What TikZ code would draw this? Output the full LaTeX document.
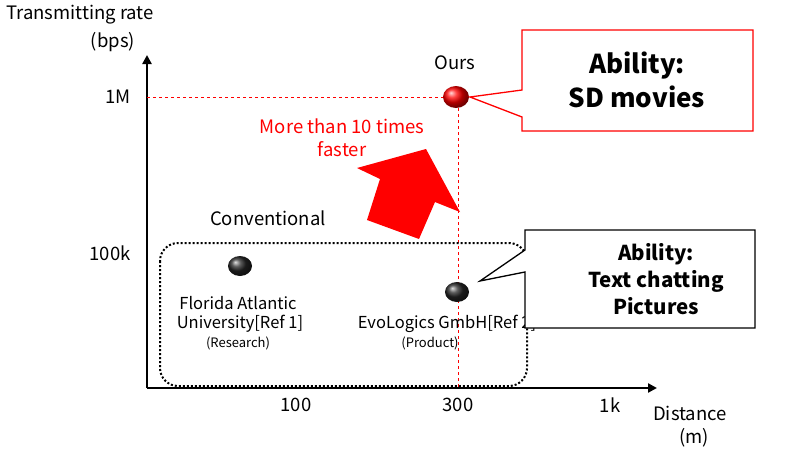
\documentclass[tikz,border=0pt]{standalone}
\usepackage{fontspec}
\setmainfont{Noto Sans CJK JP}
\usetikzlibrary{arrows.meta,shapes.geometric}
\begin{document}
\begin{tikzpicture}[x=1pt,y=-1pt,
  lab/.style={font=\fontsize{18.5}{20}\selectfont,inner sep=0},
  small/.style={font=\fontsize{13}{14}\selectfont,inner sep=0},
  med/.style={font=\fontsize{16.5}{18}\selectfont,inner sep=0},
  big/.style={font=\fontsize{26}{34}\selectfont\bfseries,align=center},
  mid/.style={font=\fontsize{20.5}{27}\selectfont\bfseries,align=center},
  rdash/.style={red,dashed,line width=0.7pt}]
\useasboundingbox (0,0) rectangle (788,458);
% axes
\coordinate (o) at (147,388);
\coordinate (ytop) at (147,55);
\coordinate (xend) at (657,388);
\draw[line width=2.5pt,-{Triangle[length=9pt,width=9pt]}] (o) -- (ytop);
\draw[line width=2.5pt,-{Triangle[length=9pt,width=9pt]}] (o) -- (xend);
\node[lab] (yl1) at (80,15) {Transmitting rate};
\node[lab] (yl2) at (113,42) {(bps)};
\node[lab] (m1) at (118,97) {1M};
\node[lab] (k100) at (110,253) {100k};
\node[lab] (t1) at (296,405) {100};
\node[lab] (t3) at (458,405) {300};
\node[lab] (tk) at (610,405) {1k};
\node[lab] (xl1) at (690,413) {Distance};
\node[lab] (xl2) at (694,438) {(m)};
% dashed guides
\coordinate (h0) at (147,97);
\coordinate (v0) at (458,388);
\draw[rdash] (h0) -- (444,97);
\draw[rdash] (458,108) -- (v0);
% conventional box
\draw[dotted,line width=2pt,rounded corners=18pt] (160,243) rectangle (527,386);
\node[lab] (conv) at (268,218) {Conventional};
% red arrow
\fill[red] (380,179) -- (357,168) -- (426,149) -- (460,212) -- (435,202) -- (419,239) -- (367,220) -- cycle;
\node[lab,red,align=center,font=\fontsize{18.5}{23}\selectfont] (more) at (342,138) {More than 10 times\\faster};
% balls
\shade[ball color=red] (456,97) ellipse (13 and 11);
\node[lab] (ours) at (455,63) {Ours};
\shade[ball color=black!85] (240,266) ellipse (12 and 10);
\shade[ball color=black!85] (457,292) ellipse (12 and 10);
\node[med] (fl1) at (238,303) {Florida Atlantic};
\node[med] (fl2) at (240,324) {University[Ref 1]};
\node[small] (fl3) at (238,343) {(Research)};
\node[med] (ev1) at (447,324) {EvoLogics GmbH[Ref 2]};
\node[small] (ev2) at (430,343) {(Product)};
% red callout
\draw[red,line width=1.3pt,fill=white] (522,30) -- (753,30) -- (753,131) -- (522,131) -- (522,117) -- (470,97) -- (522,90) -- cycle;
\node[big] (sd) at (637,80) {Ability:\\SD movies};
% black callout
\draw[black,line width=1.3pt,fill=white] (525,230) -- (755,230) -- (755,328) -- (525,328) -- (525,272) -- (480,281) -- (525,250) -- cycle;
\node[mid] (tc) at (656,279) {Ability:\\Text chatting\\Pictures};
\end{tikzpicture}
\end{document}
